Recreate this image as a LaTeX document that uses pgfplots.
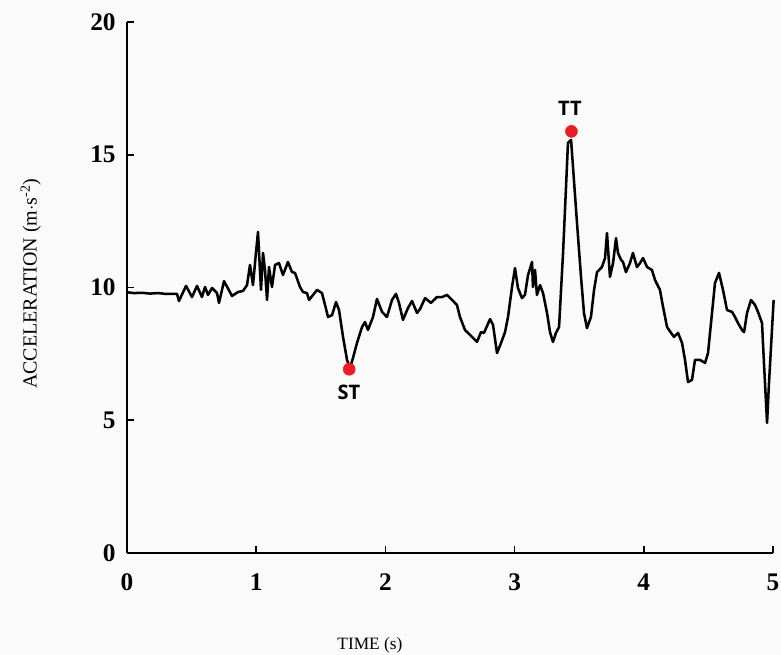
\documentclass[border=0pt]{standalone}
\usepackage{fontspec}
\setmainfont{Liberation Serif}
\newfontfamily\lblfont{Open Sans}
\usepackage{pgfplots}
\pgfplotsset{compat=1.18}
\definecolor{bgc}{RGB}{250,250,250}
\definecolor{dotred}{RGB}{236,28,36}

\pgfplotstableread{
t v
0.000 9.82
0.054 9.79
0.120 9.80
0.178 9.77
0.240 9.79
0.294 9.76
0.387 9.76
0.402 9.49
0.457 10.06
0.503 9.64
0.542 10.06
0.580 9.64
0.604 10.02
0.627 9.72
0.658 9.98
0.697 9.79
0.712 9.42
0.751 10.24
0.813 9.68
0.859 9.83
0.898 9.87
0.929 10.09
0.952 10.85
0.975 10.09
0.998 11.30
1.014 12.09
1.037 9.91
1.053 11.30
1.068 10.66
1.084 9.53
1.099 10.77
1.122 10.02
1.146 10.85
1.176 10.92
1.207 10.47
1.246 10.96
1.277 10.58
1.300 10.55
1.339 10.02
1.362 9.83
1.393 9.79
1.409 9.53
1.440 9.72
1.471 9.91
1.509 9.79
1.533 9.34
1.556 8.89
1.587 8.96
1.618 9.45
1.641 9.15
1.672 8.14
1.703 7.27
1.726 6.97
1.749 7.34
1.780 7.91
1.819 8.51
1.842 8.70
1.865 8.40
1.904 8.89
1.935 9.57
1.974 9.08
2.012 8.89
2.051 9.53
2.082 9.76
2.105 9.42
2.136 8.78
2.175 9.23
2.206 9.49
2.245 9.04
2.268 9.19
2.307 9.60
2.353 9.42
2.399 9.64
2.438 9.64
2.477 9.72
2.508 9.57
2.554 9.34
2.577 8.89
2.616 8.40
2.670 8.14
2.709 7.95
2.740 8.32
2.763 8.29
2.810 8.81
2.833 8.59
2.864 7.53
2.895 7.91
2.926 8.32
2.949 8.89
2.980 10.02
3.003 10.73
3.026 9.98
3.057 9.60
3.080 9.72
3.104 10.47
3.135 10.96
3.142 10.02
3.158 10.66
3.173 9.72
3.197 10.09
3.220 9.79
3.251 9.04
3.274 8.32
3.297 7.95
3.320 8.29
3.344 8.51
3.375 11.30
3.398 13.79
3.413 15.44
3.437 15.56
3.452 14.54
3.483 12.43
3.514 10.40
3.537 9.04
3.560 8.47
3.591 8.89
3.615 9.91
3.638 10.58
3.676 10.77
3.700 11.11
3.715 12.05
3.738 10.40
3.762 10.92
3.785 11.86
3.800 11.30
3.824 11.04
3.839 10.96
3.862 10.58
3.893 10.92
3.916 11.30
3.947 10.77
3.971 10.92
3.994 11.11
4.025 10.77
4.063 10.66
4.087 10.28
4.125 9.91
4.149 9.27
4.180 8.51
4.211 8.29
4.234 8.14
4.265 8.29
4.296 7.91
4.319 7.27
4.342 6.44
4.373 6.52
4.396 7.27
4.435 7.27
4.474 7.16
4.497 7.53
4.528 9.04
4.551 10.17
4.582 10.55
4.613 9.91
4.644 9.15
4.683 9.08
4.706 8.89
4.729 8.66
4.760 8.40
4.776 8.32
4.799 9.04
4.830 9.53
4.861 9.34
4.884 9.08
4.915 8.66
4.930 7.16
4.954 4.90
4.969 6.40
4.992 8.40
5.005 9.53
}\accdata

\begin{document}
\begin{tikzpicture}
\fill[bgc] (-95.25pt,-76.5pt) rectangle (490.5pt,414.75pt);
\begin{axis}[
  at={(0,0)}, anchor=south west,
  scale only axis, width=484.5pt, height=398.25pt,
  xmin=0, xmax=5, ymin=0, ymax=20,
  axis lines=left, axis line style={-, line width=2.2pt},
  xtick={0,1,2,3,4,5}, ytick={0,5,10,15,20},
  tick align=inside, major tick length=5pt,
  tick style={line width=1.2pt, black},
  clip=false,
  /pgf/number format/assume math mode=true,
  ticklabel style={font=\fontsize{19}{21}\selectfont\bfseries},
  xticklabel style={yshift=-12pt},
  yticklabel style={xshift=-5pt},
]
\addplot[black, line width=1.9pt, line join=round] table[x=t, y=v] {\accdata};
\addplot[only marks, mark=*, mark size=4.5pt, dotred] coordinates {(1.72,6.92) (3.44,15.88)};
\node[font=\lblfont\fontsize{15}{17}\selectfont\bfseries] at (axis cs:1.718,6.06) {ST};
\node[font=\lblfont\fontsize{15}{17}\selectfont\bfseries] at (axis cs:3.429,16.76) {TT};
\node[rotate=90, font=\fontsize{15}{17}\selectfont] at (rel axis cs:-0.149,0.507) {ACCELERATION (m$\cdot$s\textsuperscript{-2})};
\node[font=\fontsize{13}{15}\selectfont] at (rel axis cs:0.376,-0.173) {TIME (s)};
\end{axis}
\pgfresetboundingbox
\useasboundingbox (-95.25pt,-76.5pt) rectangle (490.5pt,414.75pt);
\end{tikzpicture}
\end{document}
